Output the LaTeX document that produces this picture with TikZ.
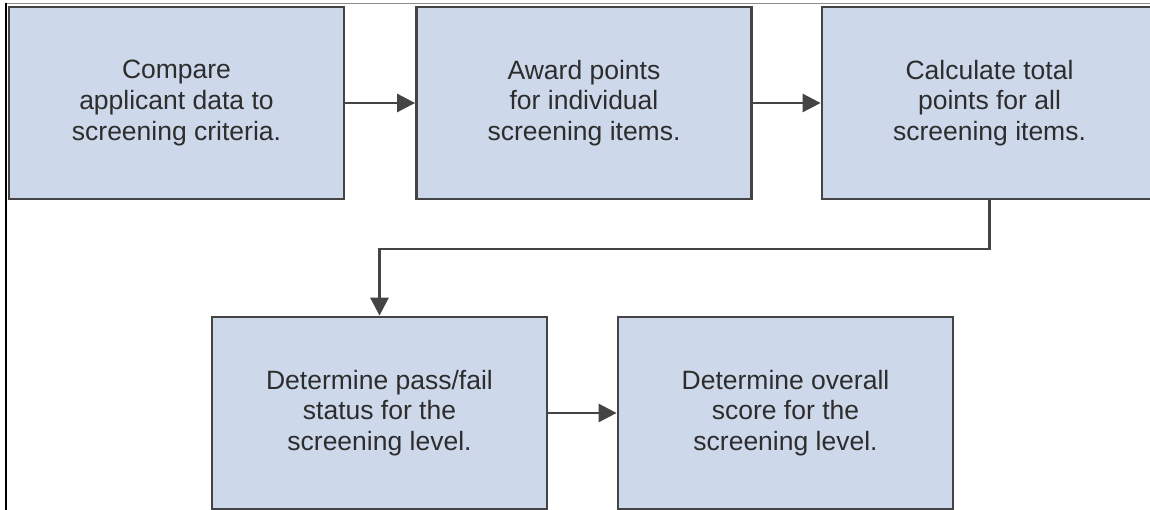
\documentclass[tikz,border=0pt]{standalone}
\usepackage{fontspec}
\setmainfont{Liberation Sans}
\usetikzlibrary{arrows.meta}
\definecolor{boxfill}{RGB}{205,216,234}
\definecolor{boxline}{RGB}{68,68,68}
\definecolor{txt}{RGB}{45,45,45}
\tikzset{
  stepbox/.style={rectangle, draw=boxline, line width=2.8pt, fill=boxfill,
    minimum width=335pt, minimum height=192pt, align=center, text=txt,
    font=\fontsize{26.5}{30.6}\selectfont, inner sep=0pt},
  conn/.style={draw=boxline, line width=2.8pt,
    -{Triangle[length=18pt,width=18pt]}}
}
\begin{document}
\begin{tikzpicture}[x=1pt,y=-1pt]
\useasboundingbox (0,0) rectangle (1150,510);
\clip (0,0) rectangle (1150,510);
\fill[white] (0,0) rectangle (1150,510);
% frame lines
\draw[line width=1.6pt, color=black!45] (6,3.5) -- (1150,3.5);
\draw[line width=2pt, color=black] (6,3) -- (6,510);
% boxes
\node[stepbox] (b1) at (176.5,103) {Compare\\applicant data to\\screening criteria.};
\node[stepbox] (b2) at (584,103) {Award points\\for individual\\screening items.};
\node[stepbox] (b3) at (989.5,103) {Calculate total\\points for all\\screening items.};
\node[stepbox] (b4) at (379.5,413) {Determine pass/fail\\status for the\\screening level.};
\node[stepbox] (b5) at (785.5,413) {Determine overall\\score for the\\screening level.};
% connectors
\draw[conn] (b1.east) -- (b2.west);
\draw[conn] (b2.east) -- (b3.west);
\coordinate (m) at (0,249);
\draw[conn] (b3.south) |- (b4.north |- m) -- (b4.north);
\draw[conn] (b4.east) -- (b5.west);
\end{tikzpicture}
\end{document}
